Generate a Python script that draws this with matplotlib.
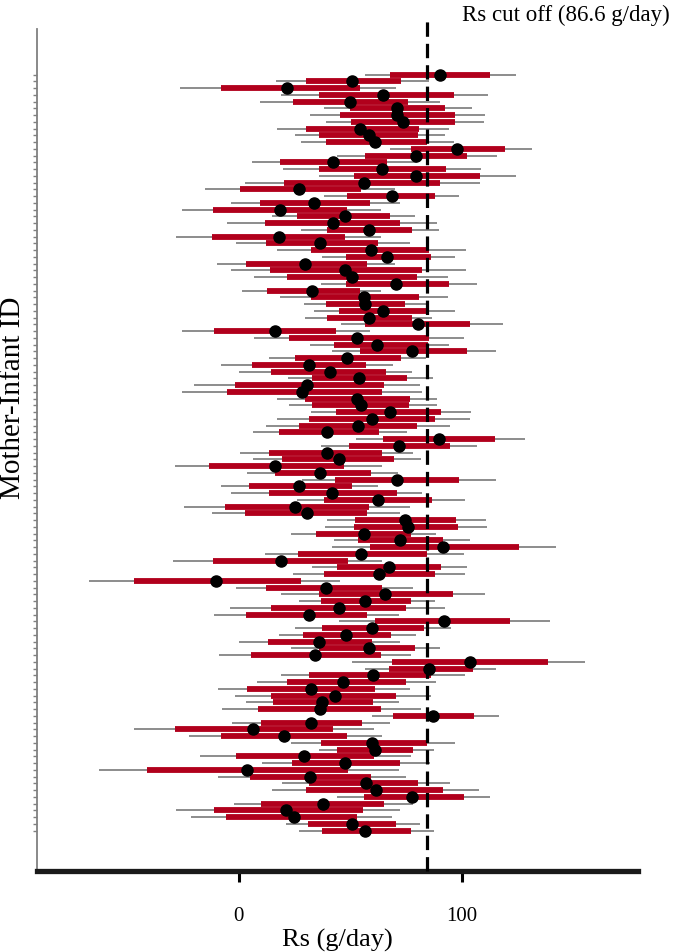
import matplotlib.pyplot as plt
import numpy as np

# Rs estimates per mother-infant pair (top row first)
rs = [90.1, 51.0, 21.8, 64.7, 50.1, 71.2, 71.0, 73.7, 54.6, 58.5,
      61.3, 98.1, 79.4, 42.3, 64.1, 79.7, 56.1, 27.1, 68.9, 33.8,
      18.7, 47.5, 42.3, 58.5, 18.1, 36.3, 59.5, 66.5, 29.6, 47.8,
      50.8, 70.7, 33.0, 56.1, 56.8, 64.7, 58.3, 80.4, 16.1, 53.2,
      62.2, 77.7, 48.6, 31.5, 40.8, 54.0, 30.6, 28.6, 53.2, 54.7,
      67.7, 59.9, 53.5, 39.8, 89.7, 71.8, 39.6, 45.0, 16.1, 36.3,
      71.2, 26.9, 42.0, 62.5, 25.1, 30.6, 74.5, 75.9, 56.1, 72.5,
      91.6, 54.7, 19.1, 67.3, 62.8, -10.0, 39.0, 65.5, 56.8, 44.9,
      31.4, 91.9, 59.9, 48.3, 35.9, 58.5, 34.4, 103.6, 85.4, 60.2,
      46.8, 32.3, 43.1, 37.5, 36.3, 87.2, 32.6, 6.4, 20.2, 59.9,
      61.0, 29.3, 47.5, 3.9, 32.1, 57.3, 61.7, 77.9, 37.8, 21.1,
      24.7, 50.8, 56.8]

# inner (thick) interval
inner_lo = [67.7, 30.3, -8.1, 35.9, 24.4, 49.8, 45.6, 50.5, 30.3, 36.0,
            39.0, 77.4, 56.8, 18.7, 35.9, 51.6, 20.2, 0.7, 48.6, 9.7,
            -11.5, 26.2, 12.0, 39.6, -11.8, 12.1, 32.6, 48.3, 3.4, 13.9,
            21.8, 48.3, 12.7, 32.6, 39.3, 44.9, 39.6, 56.5, -11.1, 22.6,
            42.8, 54.6, 25.4, 6.0, 14.4, 33.0, -1.8, -5.1, 29.6, 33.0,
            43.8, 31.5, 26.9, 18.1, 64.7, 49.5, 13.5, 19.4, -13.3, 16.1,
            43.1, 4.5, 13.5, 38.3, -6.0, 3.0, 52.3, 51.7, 34.5, 53.5,
            58.8, 26.6, -11.5, 44.3, 38.3, -47.1, 12.1, 35.9, 36.8, 14.4,
            3.4, 61.3, 37.4, 28.9, 13.2, 36.0, 5.7, 68.9, 67.3, 31.5,
            21.8, 3.9, 14.4, 15.4, 8.7, 69.2, 10.2, -28.7, -7.8, 37.1,
            44.1, -1.0, 23.9, -41.0, 5.2, 31.5, 30.3, 56.2, 10.2, -11.1,
            -5.5, 31.1, 37.4]
inner_hi = [112.6, 73.0, 54.3, 96.4, 75.9, 92.7, 96.9, 96.9, 80.9, 80.4,
            84.6, 119.3, 102.6, 66.5, 93.1, 108.1, 90.4, 54.7, 87.9, 59.1,
            48.7, 68.0, 72.5, 77.9, 47.5, 62.5, 85.4, 86.4, 57.6, 82.4,
            80.1, 94.3, 54.3, 80.9, 74.8, 85.4, 77.9, 103.9, 43.5, 85.2,
            84.9, 102.4, 73.0, 57.0, 66.2, 75.5, 65.0, 64.3, 76.7, 76.4,
            90.9, 87.9, 80.1, 62.9, 115.1, 94.6, 64.4, 69.5, 47.1, 59.5,
            98.8, 50.8, 71.2, 86.7, 58.5, 57.7, 97.6, 98.4, 77.1, 91.6,
            125.7, 84.6, 49.0, 90.9, 87.9, 28.1, 64.4, 96.1, 77.1, 75.2,
            57.6, 121.5, 83.0, 68.5, 59.9, 79.2, 63.7, 138.7, 105.1, 86.1,
            74.9, 61.0, 70.7, 60.2, 64.0, 105.5, 55.3, 42.3, 48.7, 84.6,
            78.2, 60.5, 72.5, 49.0, 59.5, 80.4, 91.6, 100.9, 65.0, 55.8,
            53.2, 70.7, 77.1]

# outer (thin) interval
outer_lo = [56.5, 16.9, -26.5, 19.1, 9.7, 38.3, 31.8, 39.3, 17.3, 25.4,
            27.8, 68.0, 44.1, 6.0, 19.9, 35.9, 3.0, -15.2, 38.3, -3.6,
            -25.3, 15.1, -5.2, 28.1, -28.3, -1.0, 17.3, 37.4, -9.7, -3.6,
            6.7, 37.1, 1.5, 18.7, 29.2, 33.8, 29.9, 46.0, -25.3, 6.7,
            31.8, 42.0, 13.5, -8.1, 0.1, 22.1, -20.2, -25.3, 17.3, 22.4,
            32.3, 17.3, 12.4, 6.4, 52.8, 37.1, 0.4, 6.4, -28.7, 3.9,
            28.6, -7.8, -3.3, 26.2, -24.5, -12.0, 39.6, 38.9, 23.3, 42.8,
            42.0, 11.7, -29.5, 32.9, 24.4, -67.1, -1.0, 19.1, 27.1, -4.0,
            -11.1, 44.9, 25.4, 18.1, 0.1, 23.6, -9.0, 51.0, 56.5, 18.8,
            8.2, -9.3, -1.5, 3.4, -7.3, 60.0, -2.8, -47.1, -22.4, 23.6,
            35.9, -17.2, 10.5, -62.6, -9.3, 19.4, 15.0, 44.1, -2.2, -28.0,
            -21.2, 21.1, 26.9]
outer_hi = [124.2, 85.4, 70.7, 111.8, 90.1, 104.8, 110.6, 109.9, 94.3, 92.7,
            96.6, 131.6, 116.0, 80.0, 108.8, 124.2, 108.1, 70.0, 98.8, 72.5,
            64.0, 79.2, 89.1, 89.7, 63.7, 76.7, 101.8, 97.2, 70.0, 101.8,
            93.9, 106.9, 64.0, 93.9, 84.2, 96.9, 86.9, 118.6, 59.1, 101.1,
            94.3, 115.6, 84.2, 69.2, 77.9, 87.2, 81.5, 82.2, 89.0, 89.0,
            104.4, 103.9, 94.6, 75.5, 128.6, 106.9, 78.2, 81.6, 64.4, 71.5,
            115.6, 62.5, 82.2, 101.7, 76.7, 72.5, 111.1, 111.4, 88.4, 103.6,
            142.5, 100.9, 64.4, 102.6, 101.4, 45.3, 78.2, 110.6, 88.2, 92.7,
            71.9, 139.5, 95.4, 79.4, 72.5, 90.4, 77.1, 155.5, 115.6, 101.7,
            88.4, 76.7, 86.4, 71.8, 81.9, 116.6, 67.7, 60.7, 64.4, 96.9,
            87.6, 77.1, 85.7, 71.8, 74.9, 94.6, 107.6, 112.6, 78.2, 72.5,
            68.8, 81.2, 87.5]

cutoff_pos = 84.3   # where the dashed line sits in the figure
cutoff_label = 'Rs cut off (86.6 g/day)'

plt.rcParams['font.family'] = ['Liberation Serif', 'DejaVu Serif']

n = len(rs)
rows = np.arange(n)

fig = plt.figure(figsize=(6.85, 9.53), dpi=100)
ax = fig.add_axes([0.054, 0.085, 0.877, 0.8835])

ax.hlines(rows, outer_lo, outer_hi, color='#6e6e6e', lw=1.1, zorder=1)
ax.hlines(rows, inner_lo, inner_hi, color='#b1001c', lw=4.2, zorder=2)
ax.plot(rs, rows, 'o', color='black', ms=8, zorder=3)

ax.set_xlim(-90.5, 179)
ax.set_ylim(n - 1 + 5.97, -6.77)

# dashed cut-off line, runs a bit above the axes
ax.plot([cutoff_pos, cutoff_pos], [0, 1.017], color='black', lw=2.3,
        ls=(0, (4.5, 2.2)), transform=ax.get_xaxis_transform(),
        clip_on=False, zorder=4)
fig.text(462 / 685, 1 - 15 / 953, cutoff_label, fontsize=16.5,
         ha='left', va='center')

ax.set_yticks(rows)
ax.set_yticklabels([])
ax.tick_params(axis='y', direction='out', length=3, width=1, color='#808080')
ax.set_xticks([0, 100])
ax.tick_params(axis='x', direction='out', length=8, width=2.2, color='black',
               labelsize=15, pad=17)

for s in ['top', 'right']:
    ax.spines[s].set_visible(False)
ax.spines['left'].set_color('#808080')
ax.spines['left'].set_linewidth(1.3)
ax.spines['bottom'].set_color('#1a1a1a')
ax.spines['bottom'].set_linewidth(3.8)

ax.set_xlabel('Rs (g/day)', fontsize=19, labelpad=2)
fig.text(13 / 685, 1 - 398 / 953, 'Mother-Infant ID', fontsize=21,
         rotation=90, ha='center', va='center')

plt.savefig('out.png', dpi=100)
plt.close()
